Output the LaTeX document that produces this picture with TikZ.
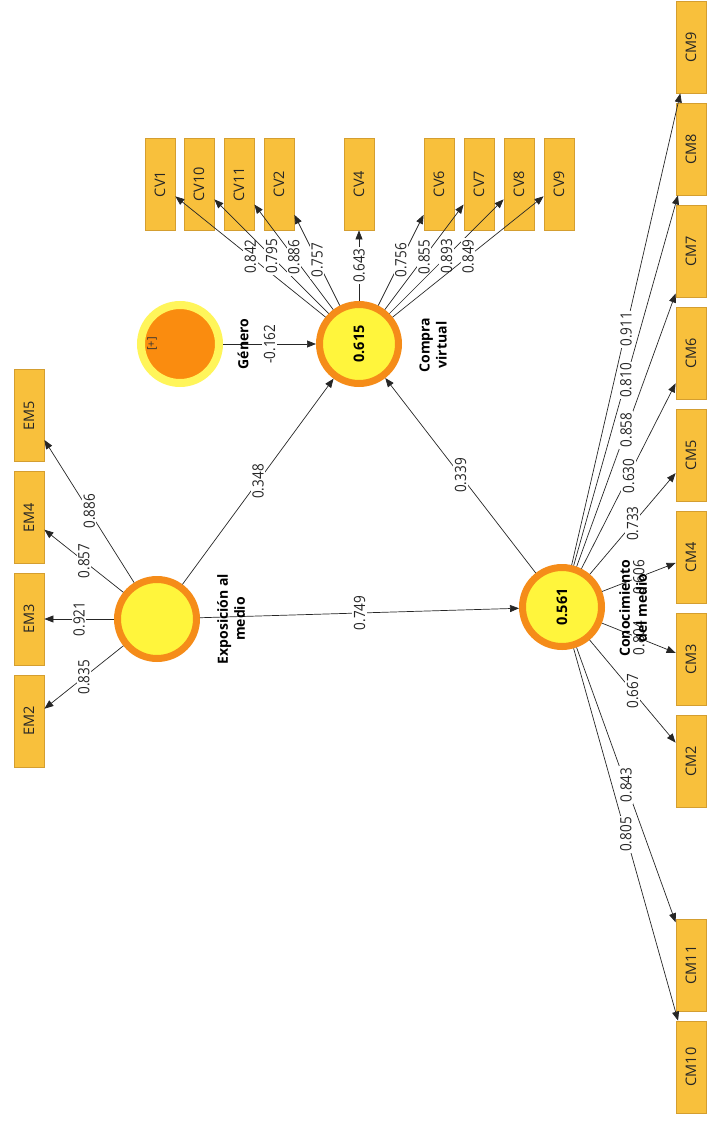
\documentclass[tikz,border=0pt]{standalone}
\usepackage{fontspec}
\setmainfont{Open Sans}
\newfontfamily\labfont[FakeStretch=0.87]{Open Sans}
\usetikzlibrary{arrows.meta}
\definecolor{boxfill}{RGB}{248,192,60}
\definecolor{boxdraw}{RGB}{212,158,48}
\definecolor{lvfill}{RGB}{255,245,60}
\definecolor{lvring}{RGB}{245,140,25}
\definecolor{genout}{RGB}{255,245,90}
\definecolor{genin}{RGB}{250,140,15}
\begin{document}
\begin{tikzpicture}[x=1pt,y=-1pt,
  ind/.style={rectangle, rotate=90, minimum width=92pt, minimum height=30pt, inner sep=0pt,
    fill=boxfill, draw=boxdraw, line width=0.8pt, text=black!85, font=\fontsize{14.5}{16}\selectfont},
  lv/.style={circle, minimum size=79pt, inner sep=0pt, fill=lvfill, draw=lvring, line width=7pt,
    rotate=90, font=\bfseries\fontsize{14.5}{16}\selectfont},
  gen/.style={circle, minimum size=78pt, inner sep=0pt, fill=genin, draw=genout, line width=8pt},
  lvname/.style={rotate=90, align=center, inner sep=0pt, font=\bfseries\fontsize{14}{17}\selectfont},
  lab/.style={midway, fill=white, rotate=90, inner sep=1.5pt, text=black!85, font=\labfont\fontsize{15.5}{17}\selectfont},
  arr/.style={-{Triangle[length=9pt,width=7pt]}, line width=0.7pt, black!85}
]
\useasboundingbox (0,0) rectangle (710,1132);

% latent variables
\node[lv] (em) at (157,619) {};
\node[lv] (cv) at (359,344) {0.615};
\node[lv] (cm) at (562,607) {0.561};
\node[gen] (ge) at (180,344) {};
\node[rotate=90, inner sep=0pt, text=black!80, font=\fontsize{11}{12}\selectfont] (plus) at (152,344) {[+]};

% CV indicators
\node[ind] (cv1)  at (160,184) {CV1};
\node[ind] (cv10) at (199,184) {CV10};
\node[ind] (cv11) at (239,184) {CV11};
\node[ind] (cv2)  at (279,184) {CV2};
\node[ind] (cv4)  at (359,184) {CV4};
\node[ind] (cv6)  at (439,184) {CV6};
\node[ind] (cv7)  at (479,184) {CV7};
\node[ind] (cv8)  at (519,184) {CV8};
\node[ind] (cv9)  at (559,184) {CV9};

% EM indicators
\node[ind] (em5) at (29,415.5) {EM5};
\node[ind] (em4) at (29,517.5) {EM4};
\node[ind] (em3) at (29,619) {EM3};
\node[ind] (em2) at (29,721) {EM2};

% CM indicators
\node[ind] (cm9)  at (691,47) {CM9};
\node[ind] (cm8)  at (691,149) {CM8};
\node[ind] (cm7)  at (691,251) {CM7};
\node[ind] (cm6)  at (691,353) {CM6};
\node[ind] (cm5)  at (691,455) {CM5};
\node[ind] (cm4)  at (691,557) {CM4};
\node[ind] (cm3)  at (691,659) {CM3};
\node[ind] (cm2)  at (691,761) {CM2};
\node[ind] (cm11) at (691,965) {CM11};
\node[ind] (cm10) at (691,1067) {CM10};

% structural paths
\draw[arr] (em) -- node[lab]{0.348} (cv);
\draw[arr] (em) -- node[lab]{0.749} (cm);
\draw[arr] (cm) -- node[lab]{0.339} (cv);
\draw[arr] (ge) -- node[lab]{-0.162} (cv);

% outer loadings CV
\draw[arr] (cv) -- node[lab]{0.842} (cv1);
\draw[arr] (cv) -- node[lab]{0.795} (cv10);
\draw[arr] (cv) -- node[lab]{0.886} (cv11);
\draw[arr] (cv) -- node[lab]{0.757} (cv2);
\draw[arr] (cv) -- node[lab]{0.643} (cv4);
\draw[arr] (cv) -- node[lab]{0.756} (cv6);
\draw[arr] (cv) -- node[lab]{0.855} (cv7);
\draw[arr] (cv) -- node[lab]{0.893} (cv8);
\draw[arr] (cv) -- node[lab]{0.849} (cv9);

% outer loadings EM
\draw[arr] (em) -- node[lab]{0.886} (em5);
\draw[arr] (em) -- node[lab]{0.857} (em4);
\draw[arr] (em) -- node[lab]{0.921} (em3);
\draw[arr] (em) -- node[lab]{0.835} (em2);

% outer loadings CM
\draw[arr] (cm) -- node[lab]{0.911} (cm9);
\draw[arr] (cm) -- node[lab]{0.810} (cm8);
\draw[arr] (cm) -- node[lab]{0.858} (cm7);
\draw[arr] (cm) -- node[lab]{0.630} (cm6);
\draw[arr] (cm) -- node[lab]{0.733} (cm5);
\draw[arr] (cm) -- node[lab]{0.606} (cm4);
\draw[arr] (cm) -- node[lab]{0.804} (cm3);
\draw[arr] (cm) -- node[lab]{0.667} (cm2);
\draw[arr] (cm) -- node[lab]{0.843} (cm11);
\draw[arr] (cm) -- node[lab]{0.805} (cm10);

% construct names
\node[lvname] (cvname) at (433,345) {Compra\\virtual};
\node[lvname] (emname) at (231,619) {Exposición al\\medio};
\node[lvname] (cmname) at (633,608) {Conocimiento\\del medio};
\node[lvname] (gename) at (243,344) {Género};
\end{tikzpicture}
\end{document}
